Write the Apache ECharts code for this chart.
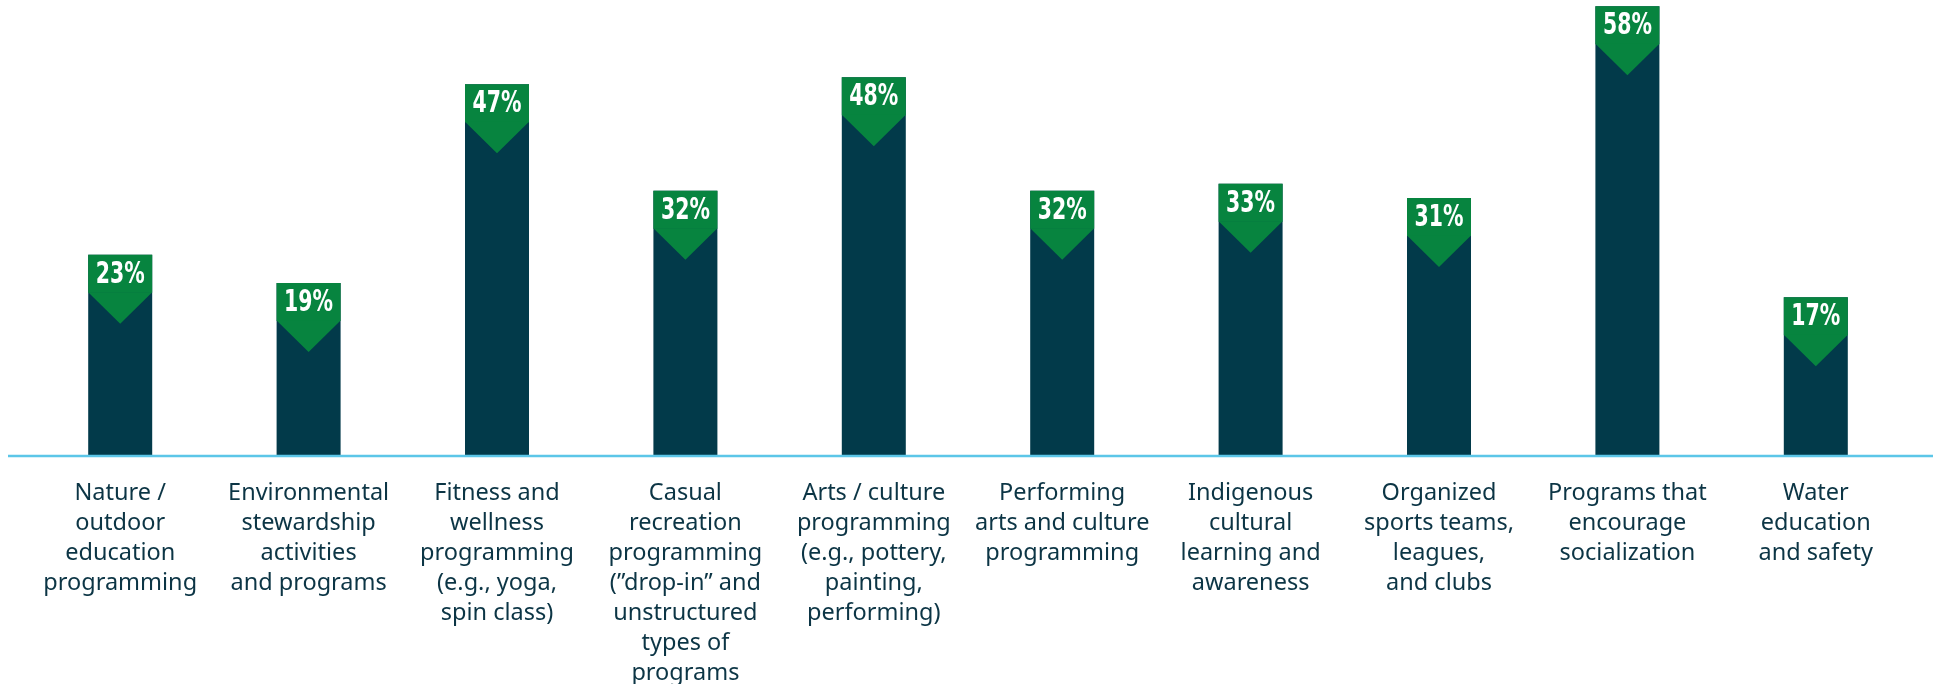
<!DOCTYPE html>
<html>
<head>
<meta charset="utf-8">
<script src="https://cdn.jsdelivr.net/npm/echarts@6/dist/echarts.min.js"></script>
<style>
  html, body { margin: 0; padding: 0; background: #ffffff; }
  #chart { width: 1933px; height: 684px; }
</style>
</head>
<body>
<div id="chart"></div>
<script>
const categories = [
  "Nature /\noutdoor\neducation\nprogramming",
  "Environmental\nstewardship\nactivities\nand programs",
  "Fitness and\nwellness\nprogramming\n(e.g., yoga,\nspin class)",
  "Casual\nrecreation\nprogramming\n(\u201ddrop-in\u201d and\nunstructured\ntypes of\nprograms",
  "Arts / culture\nprogramming\n(e.g., pottery,\npainting,\nperforming)",
  "Performing\narts and culture\nprogramming",
  "Indigenous\ncultural\nlearning and\nawareness",
  "Organized\nsports teams,\nleagues,\nand clubs",
  "Programs that\nencourage\nsocialization",
  "Water\neducation\nand safety"
];
const values = [23, 19, 47, 32, 48, 32, 33, 31, 58, 17];

const DARK = '#023a4a';
const GREEN = '#07843f';
const LINE = '#5cc6e8';
const TEXT = '#0c3545';

const chart = echarts.init(document.getElementById('chart'), null, { renderer: 'canvas' });

const BAR_W = 64, BADGE_H = 38, TRI_H = 31;

chart.setOption({
  animation: false,
  backgroundColor: '#ffffff',
  grid: { left: 26, right: 23, top: 30, bottom: 228, containLabel: false, outerBoundsMode: 'none' },
  xAxis: {
    type: 'category',
    data: categories,
    axisLine: { show: false },
    axisTick: { show: false },
    axisLabel: {
      interval: 0,
      margin: 22,
      color: TEXT,
      fontFamily: 'Noto Sans',
      fontSize: 23.5,
      lineHeight: 30,
      align: 'center'
    }
  },
  yAxis: {
    type: 'value', min: 0, max: 60, show: false, splitLine: { show: false }
  },
  series: [{
    type: 'custom',
    data: values.map((v, i) => [i, v]),
    encode: { x: 0, y: 1 },
    renderItem: function (params, api) {
      const i = api.value(0), v = api.value(1);
      const top = api.coord([i, v]);
      const base = api.coord([i, 0]);
      const x = top[0] - BAR_W / 2;
      const yTop = top[1] - BADGE_H;
      const cx = top[0], cy = yTop + BADGE_H / 2 + 1;
      return {
        type: 'group',
        children: [
          { type: 'rect', shape: { x: x, y: yTop, width: BAR_W, height: base[1] - yTop }, style: { fill: DARK } },
          { type: 'rect', shape: { x: x, y: yTop, width: BAR_W, height: BADGE_H }, style: { fill: GREEN } },
          { type: 'polygon', shape: { points: [[x, top[1] - 0.5], [x + BAR_W, top[1] - 0.5], [top[0], top[1] + TRI_H]] }, style: { fill: GREEN } },
          { type: 'text', x: cx, y: cy, scaleX: 0.66, scaleY: 1, style: {
              text: v + '%', x: 0, y: 0,
              align: 'center', verticalAlign: 'middle', fill: '#ffffff',
              font: 'bold 31px "DejaVu Sans", sans-serif'
          } }
        ]
      };
    }
  }],
  graphic: [{
    type: 'line', z: 100,
    shape: { x1: 8, y1: 456, x2: 1933, y2: 456 },
    style: { stroke: LINE, lineWidth: 2.5 }
  }]
});
</script>
</body>
</html>
